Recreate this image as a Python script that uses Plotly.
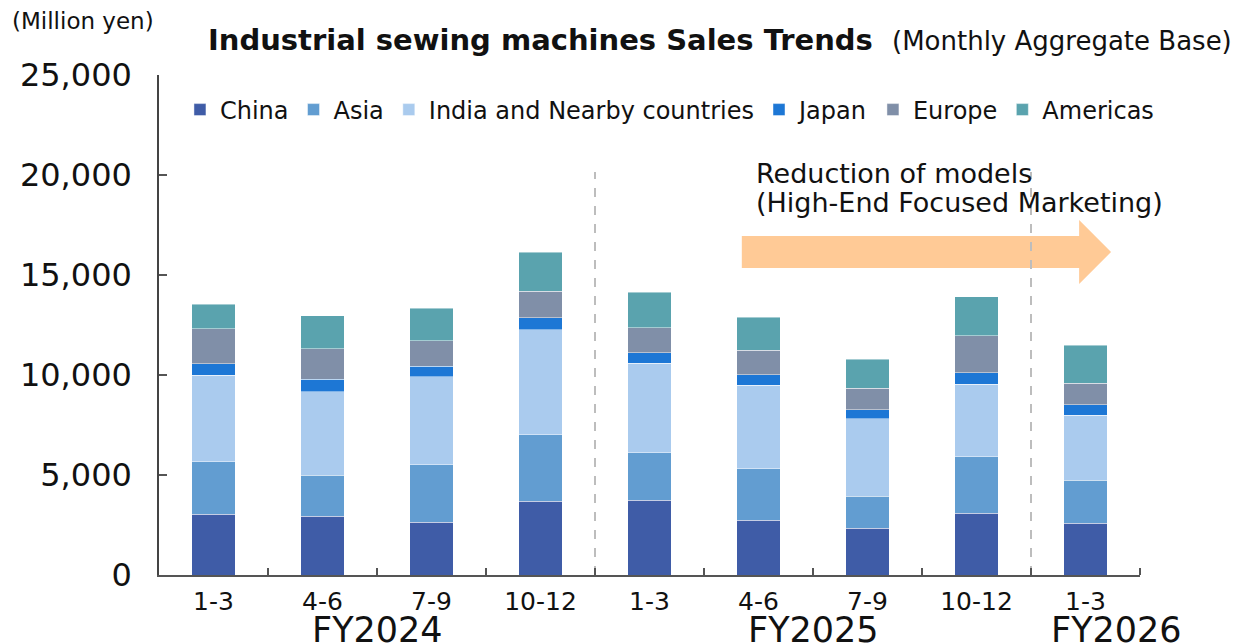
import plotly.graph_objects as go

quarters = ["1-3", "4-6", "7-9", "10-12", "1-3", "4-6", "7-9", "10-12", "1-3"]
fiscal_years = ["FY2024", "FY2025", "FY2026"]
regions = ["China", "Asia", "India and Nearby countries", "Japan", "Europe", "Americas"]

china = [3030, 2930, 2630, 3680, 3730, 2735, 2335, 3090, 2585]
asia = [2645, 2065, 2890, 3325, 2395, 2590, 1595, 2825, 2145]
india = [4320, 4170, 4405, 5250, 4455, 4170, 3890, 3620, 3250]
japan = [580, 615, 515, 600, 530, 515, 450, 575, 545]
europe = [1745, 1545, 1280, 1345, 1265, 1230, 1060, 1860, 1065]
americas = [1213, 1645, 1625, 1930, 1760, 1645, 1460, 1950, 1895]

series = [china, asia, india, japan, europe, americas]
colors = ["#3F5CA7", "#629DD1", "#AACBEE", "#1D77D5", "#808FA8", "#5AA3AE"]

FONT = "DejaVu Sans"
x_idx = list(range(len(quarters)))

fig = go.Figure()
for name, vals, col in zip(regions, series, colors):
    fig.add_trace(go.Bar(
        x=x_idx, y=vals, name=name,
        marker=dict(color=col, line=dict(color="rgba(255,255,255,0.45)", width=1)),
    ))

# page has an 8px body margin; target screen coords of plot area: x 157..1140, y 75..575
OFF = 8
VW, VH = 1243, 643
L, R, T, B = 157, 1140, 75, 575
W, H = R - L, B - T
def px(x):
    return (x - L) / W
def py(y):
    return (B - y) / H

shapes = []
for xv in [3.5, 7.5]:
    shapes.append(dict(type="line", xref="x", yref="y", x0=xv, x1=xv, y0=0, y1=20150,
                       line=dict(color="#BDBDBD", width=2, dash="dash"), layer="below"))
pts = [(741, 236), (1079, 236), (1079, 220), (1111, 252), (1079, 284), (1079, 268), (741, 268)]
path = "M " + " L ".join(f"{px(a):.5f},{py(b):.5f}" for a, b in pts) + " Z"
shapes.append(dict(type="path", xref="paper", yref="paper", path=path,
                   fillcolor="#FFCA96", line=dict(width=0), layer="below"))

annotations = [
    dict(text="<b>Industrial sewing machines Sales Trends</b>", xref="paper", yref="paper",
         x=px(204), y=py(40), xanchor="left", yanchor="middle", showarrow=False,
         font=dict(family=FONT, size=29, color="#111111")),
    dict(text="(Monthly Aggregate Base)", xref="paper", yref="paper",
         x=px(889), y=py(41), xanchor="left", yanchor="middle", showarrow=False,
         font=dict(family=FONT, size=26, color="#111111")),
    dict(text="(Million yen)", xref="paper", yref="paper",
         x=px(8), y=py(21), xanchor="left", yanchor="middle", showarrow=False,
         font=dict(family=FONT, size=23, color="#111111")),
    dict(text="Reduction of models", xref="paper", yref="paper",
         x=px(753), y=py(174), xanchor="left", yanchor="middle", showarrow=False,
         font=dict(family=FONT, size=27, color="#111111")),
    dict(text="(High-End Focused Marketing)", xref="paper", yref="paper",
         x=px(753), y=py(202), xanchor="left", yanchor="middle", showarrow=False,
         font=dict(family=FONT, size=27, color="#111111")),
]
for fy, xc in zip(fiscal_years, [1.5, 5.5, 8.28]):
    annotations.append(dict(text=fy, xref="x", yref="paper", x=xc, y=py(630),
                            xanchor="center", yanchor="middle", showarrow=False,
                            font=dict(family=FONT, size=35, color="#111111")))

fig.update_layout(
    width=VW - OFF, height=VH - OFF,
    margin=dict(l=L - OFF, r=VW - R, t=T - OFF, b=VH - B, pad=0),
    paper_bgcolor="white", plot_bgcolor="white",
    barmode="stack", bargap=0.6,
    font=dict(family=FONT, color="#111111"),
    showlegend=True,
    legend=dict(orientation="h", x=px(178), y=py(110), xanchor="left", yanchor="middle",
                font=dict(family=FONT, size=24, color="#111111"),
                itemwidth=30, tracegroupgap=0, bgcolor="rgba(0,0,0,0)",
                traceorder="normal"),
    shapes=shapes, annotations=annotations,
    xaxis=dict(
        range=[-0.5, 8.5], tickmode="array", tickvals=x_idx, ticktext=quarters,
        ticks="", showline=True, linecolor="#555555", linewidth=2, showgrid=False,
        zeroline=False, tickfont=dict(family=FONT, size=25, color="#111111"),
        ticklabelstandoff=3,
        minor=dict(tickmode="array", tickvals=[i + 0.5 for i in range(len(quarters))],
                   ticks="inside", ticklen=7, tickcolor="#555555", tickwidth=1.5),
    ),
    yaxis=dict(
        range=[0, 25000], tickmode="array", tickvals=[0, 5000, 10000, 15000, 20000, 25000],
        tickformat=",", ticks="inside", ticklen=8, tickcolor="#555555", tickwidth=1.5,
        showline=True, linecolor="#444444", linewidth=1.5, showgrid=False, zeroline=False,
        tickfont=dict(family=FONT, size=32, color="#111111"), ticklabelstandoff=19,
    ),
)

fig.write_html("out.html")
